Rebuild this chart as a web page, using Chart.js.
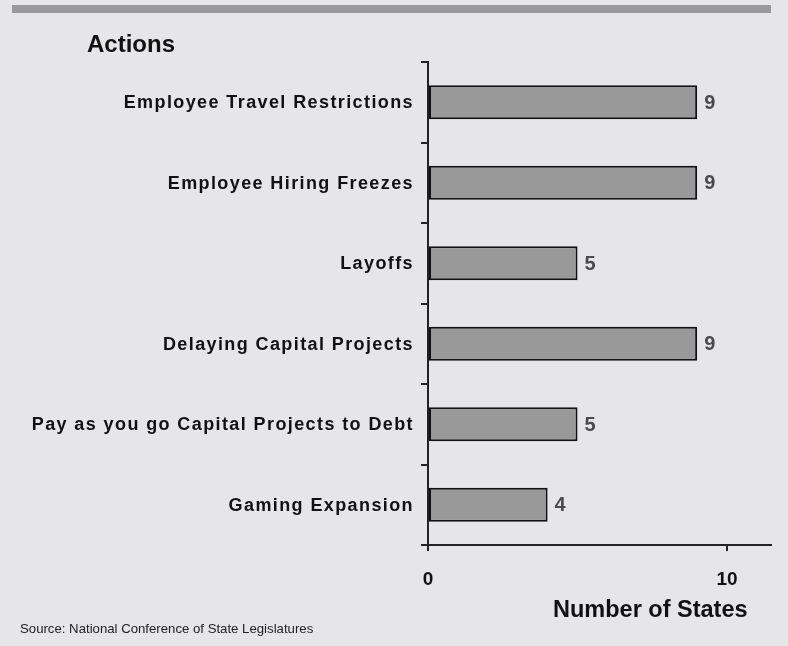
<!DOCTYPE html>
<html>
<head>
<meta charset="utf-8">
<script src="https://cdn.jsdelivr.net/npm/chart.js@4.4.0/dist/chart.umd.min.js"></script>
<style>
    body { margin: 0; background: #e6e6e8; }
    #chart { display: block; }
</style>
</head>
<body>
<canvas id="chart" width="788" height="646"></canvas>
<script>
const categories = [
    'Employee Travel Restrictions',
    'Employee Hiring Freezes',
    'Layoffs',
    'Delaying Capital Projects',
    'Pay as you go Capital Projects to Debt',
    'Gaming Expansion'
];
const stateCounts = [9, 9, 5, 9, 5, 4];
const xTickValues = [0, 10];
const xMax = 11.47;

const fontFamily = 'Arial, "Liberation Sans", sans-serif';

// background, header bar, titles, category labels, value labels
const decorPlugin = {
    id: 'decor',
    beforeDraw(chart) {
        const ctx = chart.ctx;
        ctx.save();
        ctx.fillStyle = '#e6e6e8';
        ctx.fillRect(0, 0, chart.width, chart.height);
        ctx.fillStyle = '#999999';
        ctx.fillRect(12, 5, 759, 8);
        ctx.restore();
    },
    afterDraw(chart) {
        const ctx = chart.ctx;
        const yScale = chart.scales.y;
        ctx.save();

        // category labels (slightly spaced)
        ctx.fillStyle = '#111';
        ctx.font = `bold 18px ${fontFamily}`;
        ctx.textAlign = 'right';
        ctx.textBaseline = 'middle';
        ctx.letterSpacing = '1.4px';
        categories.forEach((label, i) => {
            ctx.fillText(label, 414, yScale.getPixelForValue(i) + 1);
        });
        ctx.letterSpacing = '0px';

        // value labels
        ctx.fillStyle = '#4a4a4a';
        ctx.font = `bold 20px ${fontFamily}`;
        ctx.textAlign = 'left';
        const meta = chart.getDatasetMeta(0);
        meta.data.forEach((bar, i) => {
            ctx.fillText(String(stateCounts[i]), bar.x + 7, bar.y + 1);
        });

        // titles
        ctx.fillStyle = '#111';
        ctx.textBaseline = 'alphabetic';
        ctx.font = `bold 24px ${fontFamily}`;
        ctx.fillText('Actions', 87, 52);
        ctx.font = `bold 23.5px ${fontFamily}`;
        ctx.fillText('Number of States', 553, 617);
        ctx.font = `13.2px ${fontFamily}`;
        ctx.fillStyle = '#222';
        ctx.fillText('Source: National Conference of State Legislatures', 20, 633);
        ctx.restore();
    }
};

const ctx = document.getElementById('chart').getContext('2d');
const chart = new Chart(ctx, {
    type: 'bar',
    data: {
        labels: categories,
        datasets: [{
            data: stateCounts,
            backgroundColor: '#999999',
            borderColor: '#111',
            borderWidth: 2,
            borderSkipped: false,
            barPercentage: 0.42,
            categoryPercentage: 1
        }]
    },
    options: {
        indexAxis: 'y',
        responsive: false,
        animation: false,
        layout: {
            padding: { left: 421, top: 62, right: 17, bottom: 0 }
        },
        plugins: {
            legend: { display: false },
            tooltip: { enabled: false }
        },
        scales: {
            x: {
                min: 0,
                max: xMax,
                afterBuildTicks: scale => {
                    scale.ticks = xTickValues.map(v => ({ value: v }));
                },
                afterFit: scale => { scale.height = 101; },
                grid: {
                    drawOnChartArea: false,
                    drawTicks: true,
                    tickLength: 6,
                    color: '#222',
                    lineWidth: 2
                },
                border: { display: true, color: '#222', width: 2 },
                ticks: {
                    color: '#111',
                    padding: 17,
                    font: { family: fontFamily, size: 19, weight: 'bold' }
                }
            },
            y: {
                afterFit: scale => { scale.width = 7; },
                grid: {
                    offset: true,
                    drawOnChartArea: false,
                    drawTicks: true,
                    tickLength: 7,
                    color: '#222',
                    lineWidth: 2
                },
                border: { display: true, color: '#222', width: 2 },
                ticks: { display: false }
            }
        }
    },
    plugins: [decorPlugin]
});
</script>
</body>
</html>
